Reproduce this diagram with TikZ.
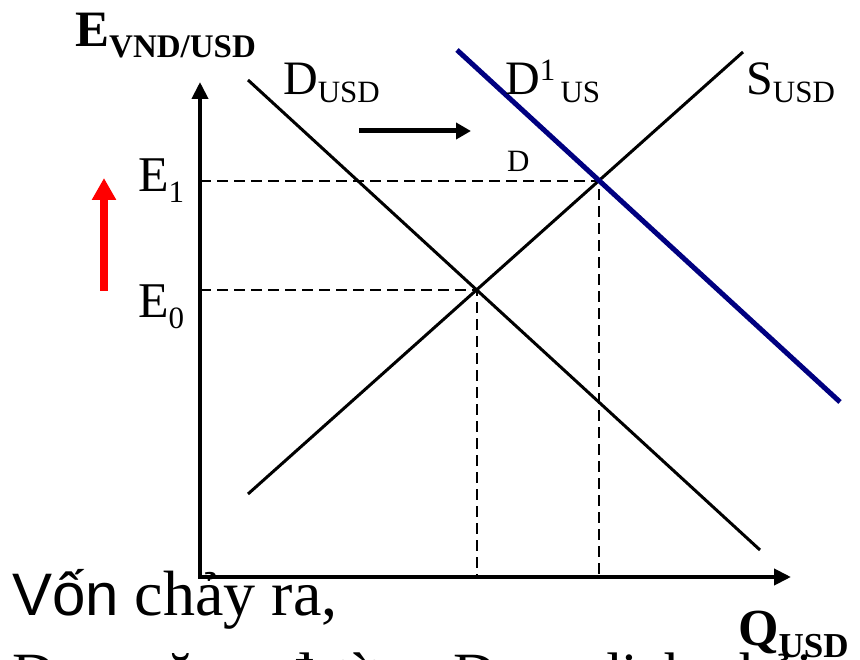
\documentclass[tikz,border=0pt]{standalone}
\usepackage{fontspec}
\setmainfont{Liberation Serif}
\newfontfamily\arialfont{Liberation Sans}
\usetikzlibrary{arrows.meta}
\definecolor{navyline}{RGB}{0,0,128}
\newcommand\bigsz{\fontsize{48}{48}\selectfont}
\newcommand\subsz{\fontsize{31}{31}\selectfont}
\tikzset{
  lbl/.style={anchor=base west, inner sep=0pt, font=\bigsz},
  axis/.style={line width=4pt, -{Triangle[length=17pt,width=16pt]}},
  curve/.style={line width=3pt},
  guide/.style={line width=2pt, dash pattern=on 11pt off 6pt}
}
\begin{document}
\begin{tikzpicture}[x=1pt,y=-1pt]
\useasboundingbox (0,0) rectangle (860,660);

% axes points
\coordinate (O) at (200,577);
\coordinate (ytop) at (200,82);
\coordinate (xend) at (791,577);

% demand, supply, shifted demand
\coordinate (d0) at (248,80);
\coordinate (d1) at (760,550);
\coordinate (s0) at (248,494);
\coordinate (s1) at (743,52);
\coordinate (n0) at (457,50);
\coordinate (n1) at (840,402);
\coordinate (E0) at (intersection of d0--d1 and s0--s1);
\coordinate (E1) at (intersection of n0--n1 and s0--s1);

\draw[guide] (O |- E0) -- (E0) -- (E0 |- O);
\draw[guide] (O |- E1) -- (E1) -- (E1 |- O);

\draw[curve] (d0) -- (d1);
\draw[curve] (s0) -- (s1);
\draw[line width=5pt, navyline] (n0) -- (n1);

\draw[axis, line cap=rect] (O) -- (ytop);
\draw[axis, line cap=rect] (O) -- (xend);

% shift of demand
\coordinate (sh0) at (359,131);
\coordinate (sh1) at (471,131);
\draw[line width=5pt, -{Triangle[length=15pt,width=16pt]}] (sh0) -- (sh1);

% rate goes up
\coordinate (up0) at (104,291);
\coordinate (up1) at (104,178);
\draw[red, line width=8pt, -{Triangle[length=22pt,width=23pt]}] (up0) -- (up1);

% labels
\node[lbl, font=\fontsize{51}{51}\selectfont\bfseries] (ylab) at (75,47)
  {E\lower11pt\hbox{\fontsize{33}{33}\selectfont\bfseries VND/USD}};
\node[lbl, font=\fontsize{52}{52}\selectfont\bfseries] (xlab) at (738,645)
  {Q\lower12pt\hbox{\fontsize{35}{35}\selectfont\bfseries USD}};
\node[lbl] (dlab) at (283,95) {D\lower8pt\hbox{\subsz USD}};
\node[lbl] (slab) at (746,95) {S\lower8pt\hbox{\subsz USD}};
\node[lbl] (nlab) at (505,95) {D\raise14pt\hbox{\subsz 1}\lower8pt\hbox{\subsz\,US}};
\node[lbl, font=\subsz] (nlab2) at (507,172) {D};
\node[lbl, font=\fontsize{50}{50}\selectfont] (e1lab) at (138,192) {E\lower11pt\hbox{\subsz 1}};
\node[lbl, font=\fontsize{50}{50}\selectfont] (e0lab) at (138,318) {E\lower11pt\hbox{\subsz 0}};

% caption, cut at the bottom
\begin{scope}
\clip (0,0) rectangle (860,660);
\node[lbl, font=\fontsize{64}{64}\selectfont] (cap1) at (12,615)
  {{\fontsize{60}{60}\arialfont Vốn} chảy ra,};
\node[lbl, font=\fontsize{60}{60}\selectfont] (cap2) at (12,694)
  {D\lower10pt\hbox{\fontsize{40}{40}\selectfont USD} tăng, đường D\lower10pt\hbox{\fontsize{40}{40}\selectfont USD} dịch phải};
\end{scope}
\end{tikzpicture}
\end{document}
